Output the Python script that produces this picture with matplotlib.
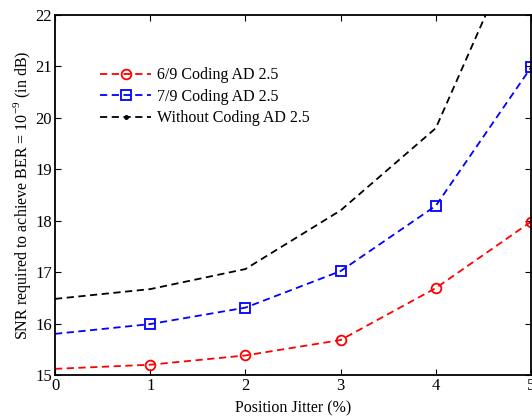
import matplotlib
matplotlib.use("Agg")
import matplotlib.pyplot as plt

plt.rcParams['font.family'] = ['Liberation Serif', 'DejaVu Serif']
plt.rcParams['mathtext.fontset'] = 'custom'
plt.rcParams['mathtext.rm'] = 'Liberation Serif'

jitter = [0, 1, 2, 3, 4, 5]
coded_69 = [15.12, 15.20, 15.38, 15.68, 16.69, 17.98]
coded_79 = [15.80, 15.99, 16.31, 17.02, 18.29, 20.98]
uncoded = [16.48, 16.67, 17.06, 18.2, 19.8, 24.0]
labels = ["6/9 Coding AD 2.5", "7/9 Coding AD 2.5", "Without Coding AD 2.5"]
xticks = [0, 1, 2, 3, 4, 5]
yticks = [15, 16, 17, 18, 19, 20, 21, 22]

fig = plt.figure(figsize=(5.32, 4.18), dpi=100)
ax = fig.add_axes([55/532, 43/418, 476/532, 360/418])

mk = list(range(1, 6))
ax.plot(jitter, coded_69, color='red', ls='--', lw=1.3, marker='o', ms=7,
        mfc='none', mec='red', mew=1.3, markevery=mk, label=labels[0],
        dashes=(4, 2.5), clip_on=False)
ax.plot(jitter, coded_79, color='blue', ls='--', lw=1.3, marker='s', ms=7,
        mfc='none', mec='blue', mew=1.3, markevery=mk, label=labels[1],
        dashes=(4, 2.5), clip_on=False)
ax.plot(jitter, uncoded, color='black', ls='--', lw=1.3, marker='.', ms=3,
        markevery=[], label=labels[2], dashes=(4, 2.5))

ax.set_xlim(0, 5)
ax.set_ylim(15, 22)
ax.set_xticks(xticks)
ax.set_yticks(yticks)
ax.tick_params(direction='in', length=4, labelsize=12, top=True, right=True, pad=2)
for s in ax.spines.values():
    s.set_linewidth(1.3)

ax.set_xlabel("Position Jitter (%)", fontsize=11.5, labelpad=5)
ax.set_ylabel(r"SNR required to achieve BER = 10$^{-9}$ (in dB)", fontsize=11.5, labelpad=2)

leg = ax.legend(loc='upper left', bbox_to_anchor=(0.095, 0.855), frameon=False,
                fontsize=11.5, handlelength=3.2, handletextpad=0.35, labelspacing=0.35,
                borderaxespad=0, borderpad=0)
leg.legend_handles[2].set_marker('.')
leg.legend_handles[2].set_markersize(5)

fig.savefig("out.png", dpi=100)
